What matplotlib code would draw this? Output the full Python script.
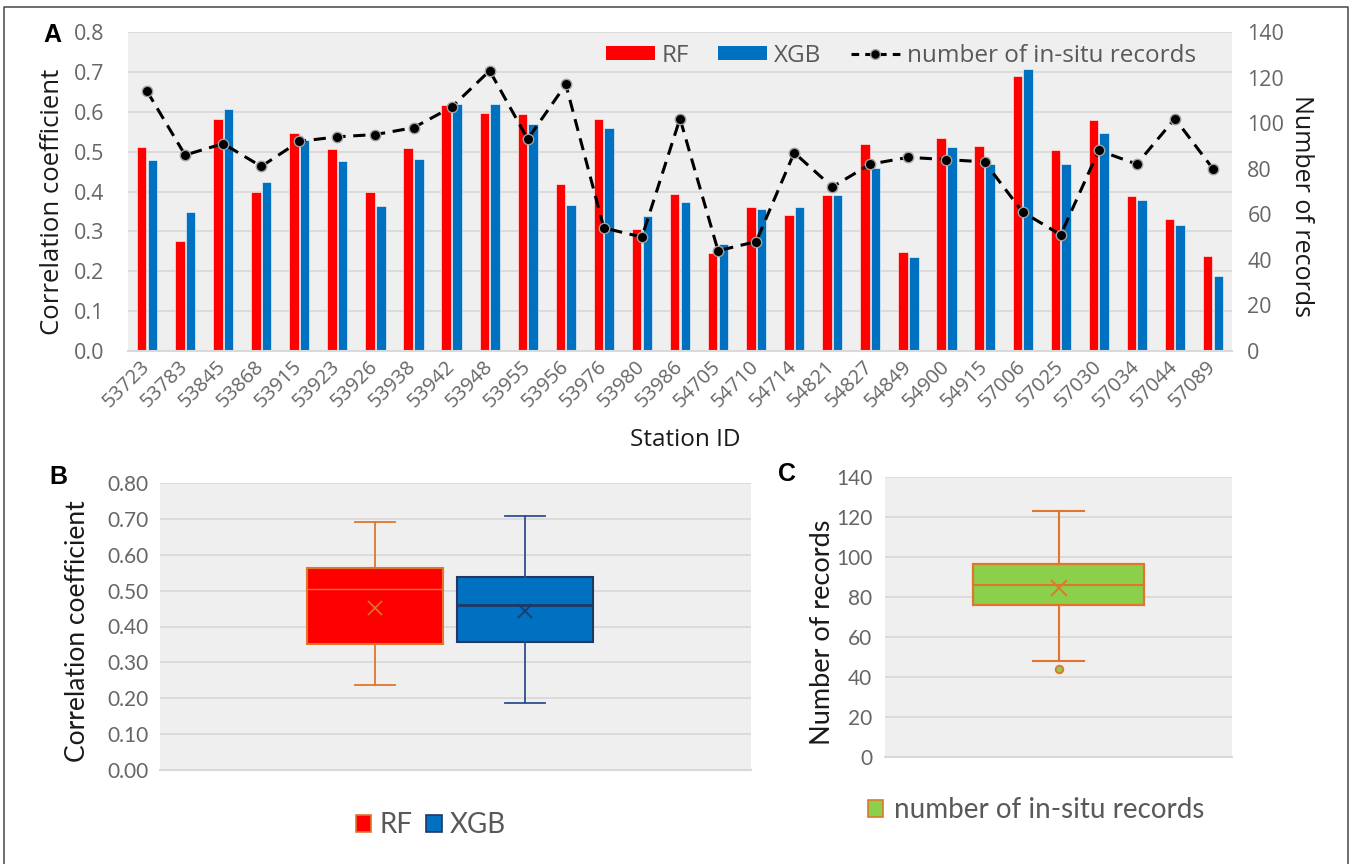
#!/usr/bin/env python3
# Station correlation (RF / XGB) with in-situ record counts, plus box summaries

import numpy as np
from matplotlib import pyplot as plt
from matplotlib import transforms as mtrans
from matplotlib.patches import Patch
from matplotlib.lines import Line2D

stations = ["53723", "53783", "53845", "53868", "53915", "53923", "53926", "53938", "53942", "53948",
            "53955", "53956", "53976", "53980", "53986", "54705", "54710", "54714", "54821", "54827",
            "54849", "54900", "54915", "57006", "57025", "57030", "57034", "57044", "57089"]
rfCorr = [0.512, 0.276, 0.582, 0.399, 0.546, 0.507, 0.399, 0.510, 0.617, 0.598,
          0.594, 0.418, 0.582, 0.306, 0.394, 0.245, 0.360, 0.341, 0.390, 0.519,
          0.249, 0.533, 0.515, 0.690, 0.505, 0.580, 0.388, 0.331, 0.238]
xgbCorr = [0.479, 0.349, 0.606, 0.423, 0.530, 0.476, 0.364, 0.481, 0.619, 0.619,
           0.570, 0.367, 0.559, 0.339, 0.374, 0.268, 0.356, 0.360, 0.392, 0.460,
           0.235, 0.512, 0.468, 0.707, 0.470, 0.547, 0.379, 0.317, 0.187]
records = [114, 86, 91, 81, 92, 94, 95, 98, 107, 123,
           93, 117, 54, 50, 102, 44, 48, 87, 72, 82,
           85, 84, 83, 61, 51, 88, 82, 102, 80]

corrTicks = [0.0, 0.1, 0.2, 0.3, 0.4, 0.5, 0.6, 0.7, 0.8]
recTicks = [0, 20, 40, 60, 80, 100, 120, 140]

W, H = 1352, 864
topFont = "Open Sans"
botFont = "Lato"
tickGrey = "#666666"
bgGrey = "#efefef"
gridGrey = "#d9d9d9"
red = "#ff0000"
blue = "#0070c0"
orange = "#e0752d"
navy = "#203864"
green = "#8bcf4b"


def axBox(l, t, r, b):
    return [l / W, 1 - b / H, (r - l) / W, (b - t) / H]


def styleAx(ax):
    ax.set_facecolor(bgGrey)
    for s in ax.spines.values():
        s.set_visible(False)
    ax.spines["bottom"].set_visible(True)
    ax.spines["bottom"].set_color(gridGrey)
    ax.spines["bottom"].set_linewidth(1.5)
    ax.yaxis.grid(True, color=gridGrey, linewidth=1.3)
    ax.set_axisbelow(True)


def excelStats(vals):
    v = np.asarray(vals, dtype=float)
    q1, med, q3 = np.percentile(v, [25, 50, 75], method="weibull")
    iqr = q3 - q1
    inside = v[(v >= q1 - 1.5 * iqr) & (v <= q3 + 1.5 * iqr)]
    return {"q1": q1, "med": med, "q3": q3, "mean": v.mean(),
            "whislo": inside.min(), "whishi": inside.max(),
            "fliers": v[(v < q1 - 1.5 * iqr) | (v > q3 + 1.5 * iqr)]}


fig = plt.figure(figsize=(W / 100, H / 100), dpi=100)

# ---------------- panel A ----------------
ax = fig.add_axes(axBox(128, 32, 1232, 351))
styleAx(ax)
x = np.arange(len(stations))
ax.bar(x - 0.14, rfCorr, width=0.25, color=red, edgecolor="white", linewidth=0.4, zorder=2)
ax.bar(x + 0.14, xgbCorr, width=0.25, color=blue, edgecolor="white", linewidth=0.4, zorder=2)
ax.set_xlim(-0.5, len(stations) - 0.5)
ax.set_ylim(0, 0.8)
ax.set_yticks(corrTicks)
ax.set_yticklabels([f"{t:.1f}" for t in corrTicks], fontfamily=topFont, fontsize=15.5, color=tickGrey)
ax.set_xticks(x)
ax.set_xticklabels(stations, rotation=45, ha="right", va="center", rotation_mode="anchor",
                   fontfamily=topFont, fontsize=14.5, color=tickGrey)
shift = mtrans.ScaledTranslation(4 / 100, 2 / 100, fig.dpi_scale_trans)
for lbl in ax.get_xticklabels():
    lbl.set_transform(lbl.get_transform() + shift)
ax.tick_params(axis="both", length=0)
ax.tick_params(axis="y", pad=17)
ax.tick_params(axis="x", pad=9)
ax.set_ylabel("Correlation coefficient", fontfamily=topFont, fontsize=18.5, color="#1a1a1a")
ax.yaxis.label.set_va("center")
ax.yaxis.set_label_coords(-0.0688, 0.467)
ax.set_xlabel("Station ID", fontfamily=topFont, fontsize=17.5, color="#1a1a1a")
ax.xaxis.label.set_va("center")
ax.xaxis.set_label_coords(0.505, -0.279)

ax2 = ax.twinx()
ax2.set_ylim(0, 140)
ax2.set_yticks(recTicks)
ax2.set_yticklabels([str(t) for t in recTicks], fontfamily=topFont, fontsize=15.5, color=tickGrey)
ax2.tick_params(axis="y", length=0, pad=11)
for s in ax2.spines.values():
    s.set_visible(False)
recLine, = ax2.plot(x, records, color="black", linestyle="--", dashes=(4, 2.5), linewidth=2.2,
                    marker="o", markersize=7.5, markerfacecolor="black", markeredgecolor="#a0a0a0",
                    markeredgewidth=1, zorder=3)
ax2.set_ylabel("Number of records", fontfamily=topFont, fontsize=18, color="#1a1a1a", rotation=270)
ax2.yaxis.label.set_va("center")
ax2.yaxis.set_label_coords(1.0634, 0.455)

legHandles = [Patch(facecolor=red), Patch(facecolor=blue),
              Line2D([], [], color="black", linestyle="--", dashes=(2.5, 2), linewidth=2.2, marker="o",
                     markersize=7, markerfacecolor="black", markeredgecolor="#a0a0a0")]
leg = ax2.legend(legHandles, ["RF", "XGB", "number of in-situ records"], loc="center",
                 bbox_to_anchor=(901 / W, 1 - 56 / H), bbox_transform=fig.transFigure, ncol=3,
                 frameon=False, prop={"family": topFont, "size": 17.5}, handlelength=2.0,
                 handleheight=0.5, handletextpad=0.3, columnspacing=1.2)
for t in leg.get_texts():
    t.set_color("#595959")

# ---------------- panel B ----------------
axB = fig.add_axes(axBox(160, 483, 751, 770))
styleAx(axB)
rfStats = excelStats(rfCorr)
xgbStats = excelStats(xgbCorr)
axB.bxp([rfStats], positions=[0], widths=0.907, capwidths=0.267, showmeans=True, patch_artist=True,
        boxprops={"facecolor": red, "edgecolor": orange, "linewidth": 1.5},
        medianprops={"color": orange, "linewidth": 1.0},
        whiskerprops={"color": orange, "linewidth": 1.3}, capprops={"color": orange, "linewidth": 1.3},
        meanprops={"marker": "x", "markeredgecolor": orange, "markersize": 10, "markeredgewidth": 1.2})
axB.bxp([xgbStats], positions=[1], widths=0.907, capwidths=0.267, showmeans=True, patch_artist=True,
        boxprops={"facecolor": blue, "edgecolor": navy, "linewidth": 1.5},
        medianprops={"color": navy, "linewidth": 2.0},
        whiskerprops={"color": "#2f4f8f", "linewidth": 1.3}, capprops={"color": "#2f4f8f", "linewidth": 1.3},
        meanprops={"marker": "x", "markeredgecolor": navy, "markersize": 10, "markeredgewidth": 1.2})
axB.set_xlim(-1.433, 2.507)
axB.set_ylim(0, 0.8)
axB.set_yticks(corrTicks)
axB.set_yticklabels([f"{t:.2f}" for t in corrTicks], fontfamily=botFont, fontsize=15, color=tickGrey)
axB.set_xticks([])
axB.tick_params(axis="y", length=0, pad=8.5)
axB.set_ylabel("Correlation coefficient", fontfamily=botFont, fontsize=19, color="#1a1a1a")
axB.yaxis.label.set_va("center")
axB.yaxis.set_label_coords(-0.140, 0.484)
legB = axB.legend([Patch(facecolor=red, edgecolor=orange, linewidth=1.2),
                   Patch(facecolor=blue, edgecolor=navy, linewidth=1.2)], ["RF", "XGB"],
                  loc="center", bbox_to_anchor=(431 / W, 1 - 825 / H), bbox_transform=fig.transFigure,
                  ncol=2, frameon=False, prop={"family": botFont, "size": 20}, handlelength=0.55,
                  handleheight=0.55, handletextpad=0.3, columnspacing=0.5)
for t in legB.get_texts():
    t.set_color("#595959")

# ---------------- panel C ----------------
axC = fig.add_axes(axBox(885, 477, 1232, 757))
styleAx(axC)
axC.bxp([excelStats(records)], positions=[0], widths=0.99, capwidths=0.29, showmeans=True, patch_artist=True,
        boxprops={"facecolor": green, "edgecolor": orange, "linewidth": 1.6},
        medianprops={"color": orange, "linewidth": 1.5},
        whiskerprops={"color": orange, "linewidth": 1.5}, capprops={"color": orange, "linewidth": 1.5},
        meanprops={"marker": "x", "markeredgecolor": orange, "markersize": 11, "markeredgewidth": 1.3},
        flierprops={"marker": "o", "markerfacecolor": green, "markeredgecolor": orange,
                    "markersize": 5.5, "markeredgewidth": 1.3})
axC.set_xlim(-1, 1)
axC.set_ylim(0, 140)
axC.set_yticks(recTicks)
axC.set_yticklabels([str(t) for t in recTicks], fontfamily=botFont, fontsize=15, color=tickGrey)
axC.set_xticks([])
axC.tick_params(axis="y", length=0, pad=9)
axC.set_ylabel("Number of records", fontfamily=botFont, fontsize=19.5, color="#1a1a1a")
axC.yaxis.label.set_va("center")
axC.yaxis.set_label_coords(-0.179, 0.446)
legC = axC.legend([Patch(facecolor=green, edgecolor=orange, linewidth=1.2)], ["number of in-situ records"],
                  loc="center", bbox_to_anchor=(1036 / W, 1 - 810 / H), bbox_transform=fig.transFigure,
                  frameon=False, prop={"family": botFont, "size": 20}, handlelength=0.55,
                  handleheight=0.55, handletextpad=0.4)
for t in legC.get_texts():
    t.set_color("#595959")

# panel letters
for letter, px, py in [("A", 52, 35), ("B", 58, 477), ("C", 787, 474)]:
    fig.text(px / W, 1 - py / H, letter, fontfamily="Liberation Sans", fontweight="bold",
             fontsize=18, ha="center", va="center")

# outer frame (left, top, right)
fig.add_artist(Line2D([4 / W, 4 / W, 1348 / W, 1348 / W], [0, 1 - 7 / H, 1 - 7 / H, 0],
                      transform=fig.transFigure, color="#555555", linewidth=1.2))

fig.savefig("out.png", dpi=100)
